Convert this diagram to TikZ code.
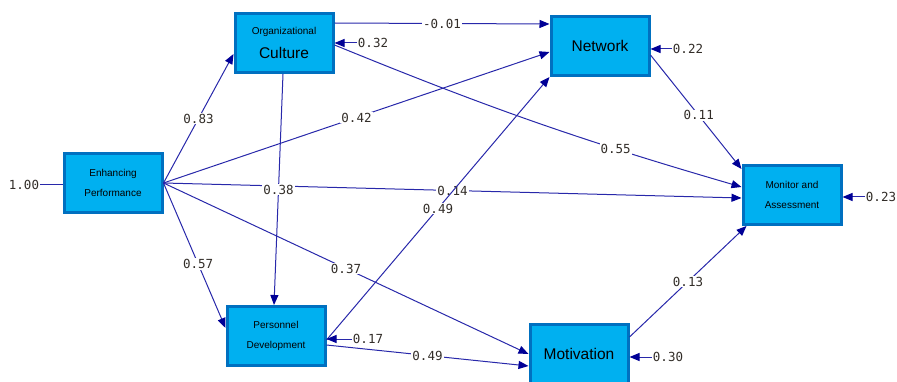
\documentclass[tikz,border=0pt]{standalone}
\usepackage{fontspec}
\setmainfont{Liberation Sans}
\newfontfamily\coeffont{DejaVu Sans Mono}
\usetikzlibrary{arrows.meta}
\definecolor{boxfill}{RGB}{0,176,240}
\definecolor{boxline}{RGB}{0,112,192}
\definecolor{pathblue}{RGB}{40,40,170}
\definecolor{tipblue}{RGB}{0,0,150}
\definecolor{coeftext}{RGB}{50,45,40}
\begin{document}
\begin{tikzpicture}[x=1pt, y=-1pt]
    \tikzset{var box/.style={draw=boxline, fill=boxfill, line width=3pt, minimum width=98pt, minimum height=59pt, inner sep=0pt, align=center, font=\fontsize{10}{20}\selectfont},
             big/.style={font=\fontsize{15.5}{22}\selectfont},
             path/.style={draw=pathblue, line width=1pt, -{Triangle[length=10pt,width=8pt,color=tipblue]}},
             coef/.style={font=\coeffont\fontsize{12.5}{14}\selectfont, text=coeftext, fill=white, inner sep=1pt}}
    \useasboundingbox (0,0) rectangle (897,382);

    % Variables
    \node[var box] (enh) at (113, 183) {Enhancing\\Performance};
    \node[var box, font=\fontsize{10}{24}\selectfont] (cult) at (284, 43) {Organizational\\{\fontsize{15.5}{24}\selectfont Culture}};
    \node[var box, big] (net) at (600, 46) {Network};
    \node[var box] (mon) at (792, 195) {Monitor and\\Assessment};
    \node[var box] (pers) at (276, 336) {Personnel\\Development};
    \node[var box, big] (mot) at (579, 354) {Motivation};

    % Paths from Enhancing Performance
    \draw[path] (enh.east) -- node[coef] {0.83} ([yshift=-11pt]cult.west);
    \draw[path] (enh.east) -- node[coef] {0.42} ([yshift=-6pt]net.west);
    \draw[path] (enh.east) -- node[coef] {0.14} ([yshift=-3pt]mon.west);
    \draw[path] (enh.east) -- node[coef] {0.37} (mot.west);
    \draw[path] (enh.east) -- node[coef, pos=0.56] {0.57} ([yshift=8pt]pers.west);

    % Paths from Organizational Culture
    \draw[path] ([yshift=20pt]cult.east) -- node[coef] {-0.01} ([yshift=22pt]net.west);
    \draw[path] ([yshift=-2pt]cult.east) to[bend right=3] node[coef, pos=0.71] {0.55} ([yshift=8pt]mon.west);
    \draw[path] ([xshift=-1pt]cult.south) -- node[coef] {0.38} ([xshift=-2pt]pers.north);

    % Remaining paths
    \draw[path] ([yshift=-9pt]net.east) -- node[coef, pos=0.53] {0.11} ([yshift=-5pt]mon.north west);
    \draw[path] ([yshift=-4pt]pers.east) -- node[coef] {0.49} (net.south west);
    \draw[path] ([yshift=-9pt]pers.east) -- node[coef] {0.49} ([yshift=-12pt]mot.west);
    \draw[path] ([yshift=17pt]mot.east) -- node[coef] {0.13} ([xshift=5pt]mon.south west);

    % Error terms
    \node[coef] (r_enh) at (24, 185) {1.00};
    \node[coef] (r_cult) at (373, 43) {0.32};
    \node[coef] (r_net) at (688, 49) {0.22};
    \node[coef] (r_mon) at (881, 197) {0.23};
    \node[coef] (r_pers) at (368, 339) {0.17};
    \node[coef] (r_mot) at (668, 357) {0.30};
    \draw[pathblue, line width=1pt] (r_enh) -- (r_enh -| enh.west);
    \draw[path] (r_cult) -- (r_cult -| cult.east);
    \draw[path] (r_net) -- (r_net -| net.east);
    \draw[path] (r_mon) -- (r_mon -| mon.east);
    \draw[path] (r_pers) -- (r_pers -| pers.east);
    \draw[path] (r_mot) -- (r_mot -| mot.east);

\end{tikzpicture}
\end{document}
